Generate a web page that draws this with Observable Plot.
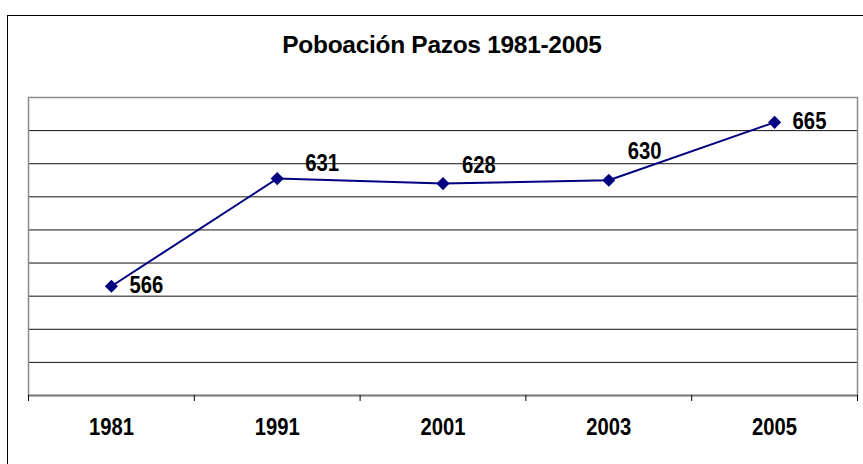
<!DOCTYPE html>
<html><head><meta charset="utf-8">
<script src="https://cdn.jsdelivr.net/npm/d3@7"></script>
<script src="https://cdn.jsdelivr.net/npm/@observablehq/plot@0.6"></script>
<style>
html,body{margin:0;padding:0;background:#fff;overflow:hidden;width:863px;height:464px}
#wrap{position:relative;width:863px;height:464px;overflow:hidden}
#border{position:absolute;left:7px;top:15px;width:900px;height:500px;border-left:1px solid #000;border-top:1px solid #000}
#title{position:absolute;left:0;top:33px;width:884px;text-align:center;font:bold 24.5px "Liberation Sans",Arial,sans-serif;line-height:24px;letter-spacing:-0.3px;color:#000}
#chart{position:absolute;left:0;top:0}
</style></head>
<body><div id="wrap"><div id="border"></div><div id="title">Poboación Pazos 1981-2005</div><div id="chart"></div></div>
<script>
const years = ["1981","1991","2001","2003","2005"];
const population = [566,631,628,630,665];
const yTicks = [520,540,560,580,600,620,640,660];
const labelDx = [18,28,19,19,18];
const labelDy = [-1,-15,-18,-29,-1];
const data = years.map((yr,i)=>({i, x:i+0.5, year:yr, value:population[i]}));
const font = '"Liberation Sans", Arial, sans-serif';
const chart = Plot.plot({
 width:863, height:464, marginLeft:28, marginRight:6, marginTop:97, marginBottom:69,
 style:{background:"transparent", fontFamily:font, overflow:"visible"},
 x:{domain:[0,5], axis:null, label:null},
 y:{domain:[500,680], axis:null, label:null},
 marks:[
  Plot.ruleY(yTicks, {stroke:"#111", strokeWidth:1}),
  Plot.frame({stroke:"#8c8c8c", strokeWidth:1.5}),
  Plot.ruleY([500], {stroke:"#808080", strokeWidth:2}),
  Plot.axisX({ticks:[0,1,2,3,4,5], tickSize:6, tickFormat:()=>"", stroke:"#000", label:null}),
  Plot.axisX({ticks:data.map(d=>d.x), tickSize:0, tickPadding:23, tickFormat:(t)=>years[Math.round(t-0.5)], fontSize:23, fontWeight:"bold", fill:"#000", label:null}),
  Plot.line(data, {x:"x", y:"value", stroke:"#000080", strokeWidth:2}),
  Plot.dot(data, {x:"x", y:"value", symbol:"diamond2", r:5.9, fill:"#000080", stroke:"none"}),
  ...data.map((d,i)=>Plot.text([d], {x:"x", y:"value", text:e=>String(e.value), textAnchor:"start", dx:labelDx[i], dy:labelDy[i], fontSize:23, fontWeight:"bold", fill:"#000"}))
 ]
});
document.getElementById("chart").appendChild(chart);
// condense the bold labels horizontally, as in the reference
chart.querySelectorAll("text").forEach(t => {
  const w = t.getComputedTextLength();
  if (w > 0) {
    t.setAttribute("lengthAdjust", "spacingAndGlyphs");
    t.setAttribute("textLength", (w * 0.88).toFixed(1));
  }
});
</script></body></html>
